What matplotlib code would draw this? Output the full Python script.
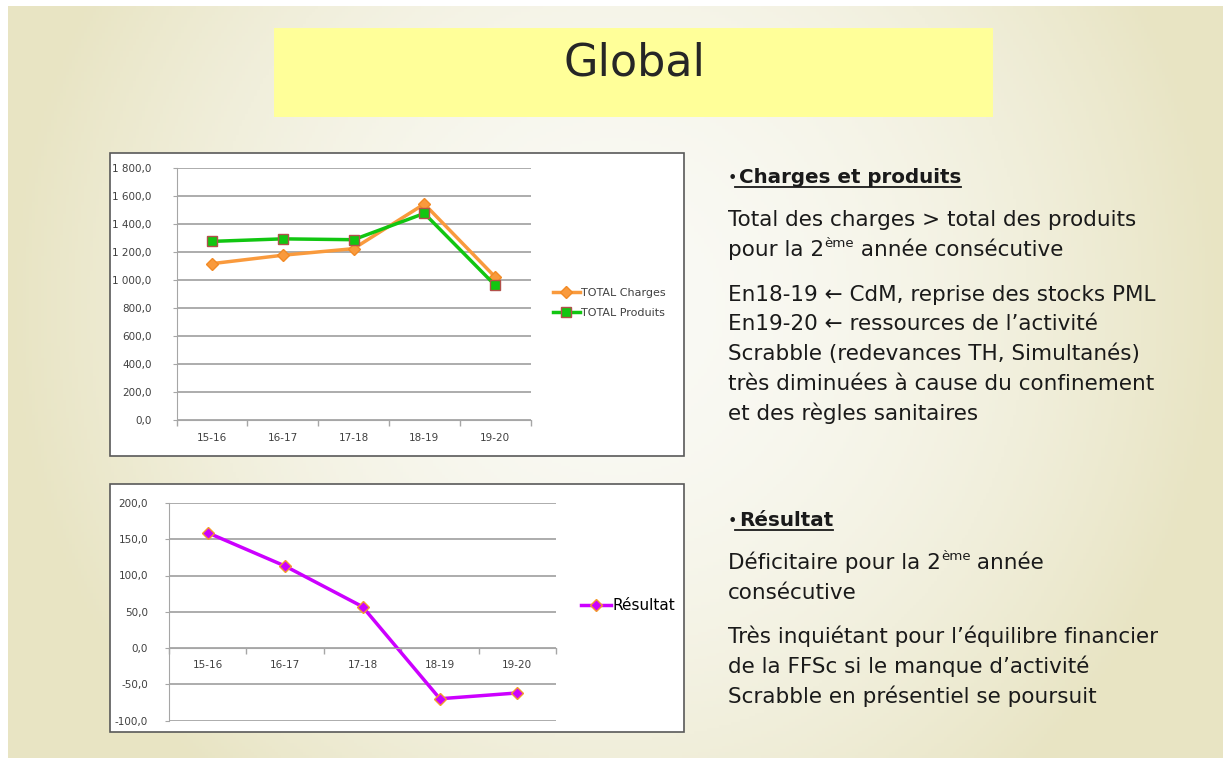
import numpy as np
import matplotlib
matplotlib.use("Agg")
import matplotlib.pyplot as plt
from matplotlib.patches import Rectangle
from matplotlib.lines import Line2D

W, H = 1223, 758

# data
years = ["15-16", "16-17", "17-18", "18-19", "19-20"]
charges = [1119, 1179, 1226, 1545, 1024]
produits = [1278, 1296, 1290, 1478, 965]
resultat = [159, 113, 57, -70, -62]

charges_ticks = [0, 200, 400, 600, 800, 1000, 1200, 1400, 1600, 1800]
charges_labels = ["0,0", "200,0", "400,0", "600,0", "800,0", "1 000,0",
                  "1 200,0", "1 400,0", "1 600,0", "1 800,0"]
res_ticks = [-100, -50, 0, 50, 100, 150, 200]
res_labels = ["-100,0", "-50,0", "0,0", "50,0", "100,0", "150,0", "200,0"]

fig = plt.figure(figsize=(W / 100, H / 100), dpi=100, facecolor="white")


def fx(px):
    return px / W


def fy(py):
    return 1 - py / H


# slide background (soft radial gradient)
bg = fig.add_axes([fx(8), 0, 1 - fx(8), 1 - 6 / H], zorder=-10)
gx, gy = np.meshgrid(np.linspace(-1, 1, 400), np.linspace(-1, 1, 250))
r = np.clip(np.sqrt((gx / 1.0) ** 2 + ((gy + 0.2) / 1.7) ** 2), 0, 1)
c0 = np.array([250, 250, 245]) / 255
c1 = np.array([232, 228, 195]) / 255
img = c0 + (c1 - c0) * (r[..., None] ** 1.8)
bg.imshow(img, aspect="auto", extent=[0, 1, 0, 1])
bg.axis("off")

# title box
fig.patches.append(Rectangle((fx(274), fy(117)), fx(993 - 274), (117 - 28) / H,
                             transform=fig.transFigure, facecolor="#FFFF99",
                             edgecolor="none", zorder=-5))
fig.text(fx(634), fy(63), "Global", fontsize=32, ha="center", va="center",
         color="#262626", family="DejaVu Sans")

# chart frames
for (x0, y0, x1, y1) in [(110, 153, 684, 456), (110, 484, 684, 732)]:
    fig.patches.append(Rectangle((fx(x0), fy(y1)), fx(x1 - x0), (y1 - y0) / H,
                                 transform=fig.transFigure, facecolor="white",
                                 edgecolor="#595959", linewidth=1.2, zorder=-4))

tick_col = "#404040"
grid_col = "#a6a6a6"


def style_axes(ax, ticks, labels, lo, hi, pad):
    n = len(years)
    ax.set_xlim(0, n)
    ax.set_ylim(lo, hi)
    ax.set_yticks(ticks)
    ax.set_yticklabels(labels)
    ax.set_xticks(np.arange(n + 1))
    ax.set_xticklabels([])
    ax.set_xticks(np.arange(n) + 0.5, minor=True)
    ax.set_xticklabels(years, minor=True)
    ax.tick_params(axis="x", which="minor", length=0, labelsize=7.5, colors=tick_col, pad=9)
    ax.tick_params(axis="x", which="major", length=4, color=grid_col, width=1)
    ax.tick_params(axis="y", length=3, color=grid_col, labelsize=7.5, labelcolor=tick_col, pad=pad)
    ax.yaxis.grid(True, color=grid_col, linewidth=1.3)
    ax.set_axisbelow(True)
    for s in ["top", "right"]:
        ax.spines[s].set_visible(False)
    ax.spines["left"].set_color(grid_col)
    ax.spines["bottom"].set_color(grid_col)
    ax.patch.set_alpha(0)


xs = np.arange(len(years)) + 0.5

# chart 1: charges / produits
ax1 = fig.add_axes([fx(176.5), fy(420.3), fx(354), 252 / H])
style_axes(ax1, charges_ticks, charges_labels, 0, 1800, 15)
ax1.plot(xs, charges, color="#F99A3D", linewidth=2.5, marker="D", markersize=6.5,
         markerfacecolor="#F99A3D", markeredgecolor="#F28A25", label="TOTAL Charges")
ax1.plot(xs, produits, color="#11C611", linewidth=2.5, marker="s", markersize=6.5,
         markerfacecolor="#11C611", markeredgecolor="#B2504A", label="TOTAL Produits")
leg1 = fig.legend(handles=ax1.get_lines(), loc="center left",
                  bbox_to_anchor=(fx(543), fy(303)), frameon=False, fontsize=8,
                  handlelength=2.4, handletextpad=0.1, labelspacing=0.9)
for t in leg1.get_texts():
    t.set_color(tick_col)

# chart 2: resultat
ax2 = fig.add_axes([fx(169), fy(720.5), fx(387), 217.5 / H])
style_axes(ax2, res_ticks, res_labels, -100, 200, 12)
ax2.spines["bottom"].set_position(("data", 0))
ax2.plot(xs, resultat, color="#CC00FF", linewidth=2.5, marker="D", markersize=6.5,
         markerfacecolor="#CC00FF", markeredgecolor="#F39B2E", label="Résultat")
fig.legend(handles=ax2.get_lines(), loc="center left",
           bbox_to_anchor=(fx(567), fy(606)), frameon=False, fontsize=11,
           handlelength=2.0, handletextpad=0.05)

# right-hand text
renderer = fig.canvas.get_renderer()
TXT = 15.5
txt_col = "#1a1a1a"


def rich_line(x, yc, parts, size=TXT, weight="normal"):
    xf = fx(x)
    base = fy(yc + 7)
    for txt, sup in parts:
        if sup:
            t = fig.text(xf, base + 9 / H, txt, fontsize=size * 0.62, va="baseline",
                         color=txt_col, weight=weight)
        else:
            t = fig.text(xf, base, txt, fontsize=size, va="baseline",
                         color=txt_col, weight=weight)
        xf = t.get_window_extent(renderer).x1 / W
    return xf


def heading(yc, label):
    fig.text(fx(728), fy(yc + 7), "•", fontsize=TXT * 0.75, va="baseline", color=txt_col)
    t = fig.text(fx(739), fy(yc + 7), label, fontsize=14.3, va="baseline",
                 color=txt_col, weight="bold")
    bb = t.get_window_extent(renderer)
    uy = fy(yc + 11)
    fig.lines.append(Line2D([fx(735), bb.x1 / W], [uy, uy], transform=fig.transFigure,
                            color=txt_col, linewidth=1.3))


heading(176, "Charges et produits")
rich_line(728, 219, [("Total des charges > total des produits", False)])
rich_line(728, 249, [("pour la 2", False), ("ème", True), (" année consécutive", False)])
rich_line(728, 294, [("En18-19 ← CdM, reprise des stocks PML", False)])
rich_line(728, 323, [("En19-20 ← ressources de l’activité", False)])
rich_line(728, 353, [("Scrabble (redevances TH, Simultanés)", False)])
rich_line(728, 383, [("très diminuées à cause du confinement", False)])
rich_line(728, 413, [("et des règles sanitaires", False)])

heading(519, "Résultat")
rich_line(728, 562, [("Déficitaire pour la 2", False), ("ème", True), (" année", False)])
rich_line(728, 592, [("consécutive", False)])
rich_line(728, 636, [("Très inquiétant pour l’équilibre financier", False)])
rich_line(728, 666, [("de la FFSc si le manque d’activité", False)])
rich_line(728, 696, [("Scrabble en présentiel se poursuit", False)])

fig.savefig("out.png", dpi=100, facecolor=fig.get_facecolor())
